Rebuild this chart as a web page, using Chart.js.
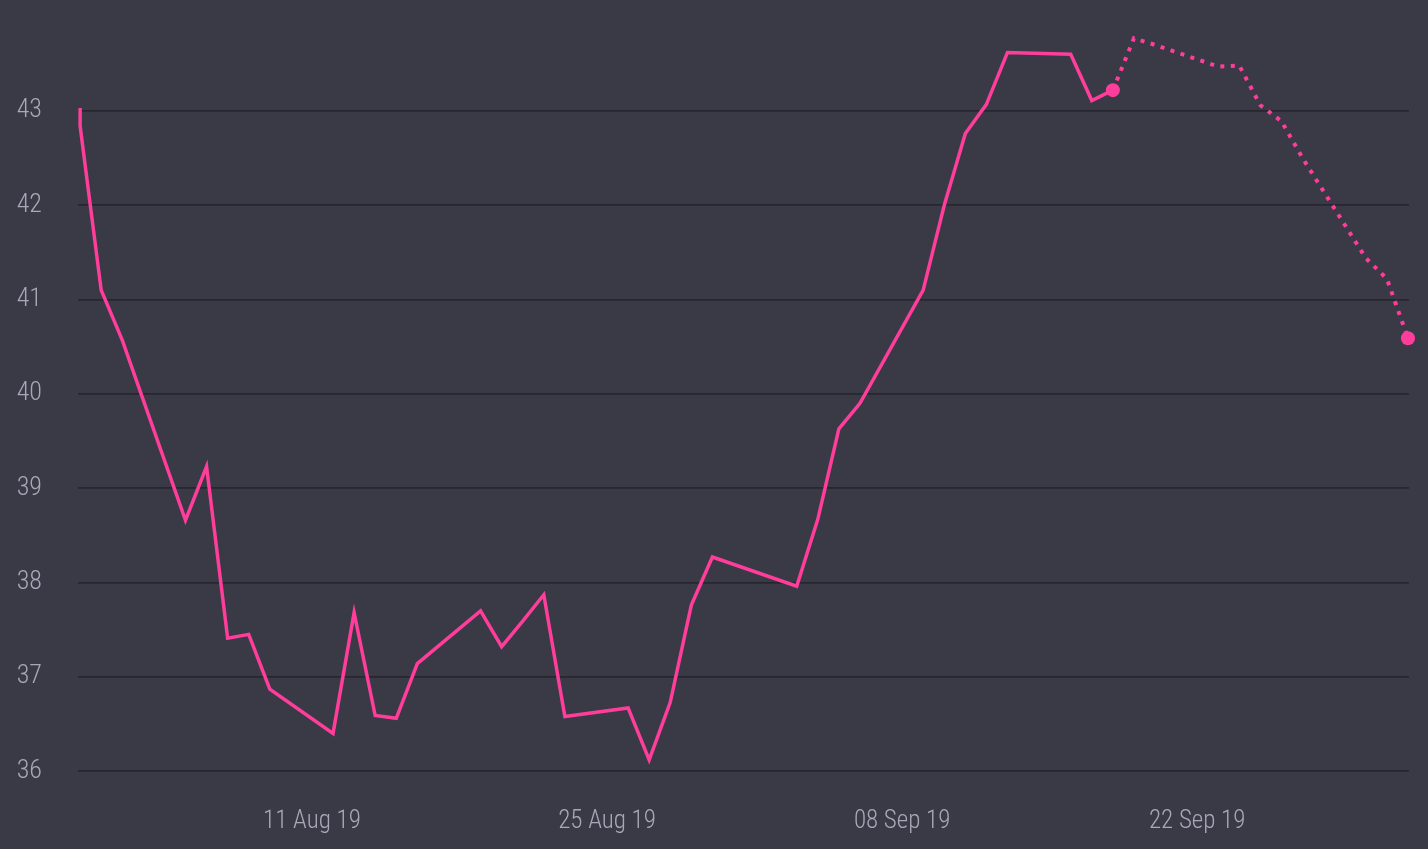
<!DOCTYPE html>
<html>
<head>
<meta charset="utf-8">
<script src="https://cdn.jsdelivr.net/npm/chart.js@4/dist/chart.umd.min.js"></script>
<style>
  html, body { margin: 0; padding: 0; background: #3a3946; }
  #wrap { width: 1428px; height: 849px; }
</style>
</head>
<body>
<div id="wrap"><canvas id="chart"></canvas></div>
<script>
// days counted from 31 Jul 2019
let actualDays = [0, 0, 1, 2, 5, 6, 7, 8, 9, 12, 13, 14, 15, 16, 19, 20, 21, 22, 23, 26, 27, 28, 29, 30,
  34, 35, 36, 37, 40, 41, 42, 43, 44, 47, 48, 49];
let actualValues = [43.03, 42.84, 41.1, 40.57, 38.66, 39.23, 37.41, 37.45, 36.87, 36.4, 37.68, 36.59, 36.56, 37.14,
  37.7, 37.32, 37.59, 37.87, 36.58, 36.67, 36.12, 36.73, 37.76, 38.27,
  37.96, 38.67, 39.63, 39.9, 41.1, 42.0, 42.76, 43.07, 43.62, 43.6, 43.11, 43.22];

let forecastDays = [49, 50, 51, 54, 55, 56, 57, 58, 61, 62, 63];
let forecastValues = [43.22, 43.77, 43.7, 43.47, 43.48, 43.06, 42.89, 42.5, 41.44, 41.22, 40.59];

let tickDays = [11, 25, 39, 53];
let tickLabels = ["11 Aug 19", "25 Aug 19", "08 Sep 19", "22 Sep 19"];
let yTicks = [36, 37, 38, 39, 40, 41, 42, 43];

let pink = "#ff3d9a";
let fontFamily = "'Roboto Condensed', 'Liberation Sans Narrow', Roboto, sans-serif";

function toPoints(days, values) {
  return days.map((d, i) => ({ x: d, y: values[i] }));
}

let ctx = document.getElementById("chart").getContext("2d");

new Chart(ctx, {
  type: "line",
  data: {
    datasets: [
      {
        data: toPoints(actualDays, actualValues),
        borderColor: pink,
        borderWidth: 3.5,
        pointRadius: 0,
        tension: 0,
        clip: false
      },
      {
        data: toPoints(forecastDays, forecastValues),
        borderColor: pink,
        borderWidth: 4,
        borderDash: [4, 6.5],
        borderCapStyle: "butt",
        backgroundColor: pink,
        pointRadius: c => (c.dataIndex === 0 || c.dataIndex === forecastDays.length - 1) ? 7 : 0,
        pointBorderWidth: 0,
        tension: 0,
        clip: false
      }
    ]
  },
  options: {
    responsive: true,
    maintainAspectRatio: false,
    animation: false,
    layout: { padding: { top: 10, right: 19, left: 0, bottom: 0 } },
    plugins: { legend: { display: false }, tooltip: { enabled: false } },
    scales: {
      x: {
        type: "linear",
        min: -0.1,
        max: 63.05,
        grid: { display: false },
        border: { display: false },
        afterBuildTicks: axis => { axis.ticks = tickDays.map(v => ({ value: v })); },
        afterFit: axis => { axis.height = 59; axis.paddingLeft = 0; axis.paddingRight = 0; },
        ticks: {
          autoSkip: false,
          maxRotation: 0,
          padding: 9,
          color: "#a9a8b8",
          font: { family: fontFamily, size: 25, weight: 300 },
          callback: v => tickLabels[tickDays.indexOf(v)]
        }
      },
      y: {
        min: 35.8,
        max: 44.07,
        grid: { color: "#28272f", lineWidth: 1.7, drawTicks: false },
        border: { display: false },
        afterBuildTicks: axis => { axis.ticks = yTicks.map(v => ({ value: v })); },
        afterFit: axis => { axis.width = 78; axis.paddingTop = 0; axis.paddingBottom = 0; },
        ticks: {
          padding: 36,
          color: "#a9a8b8",
          font: { family: fontFamily, size: 26, weight: 300 }
        }
      }
    }
  }
});
</script>
</body>
</html>
